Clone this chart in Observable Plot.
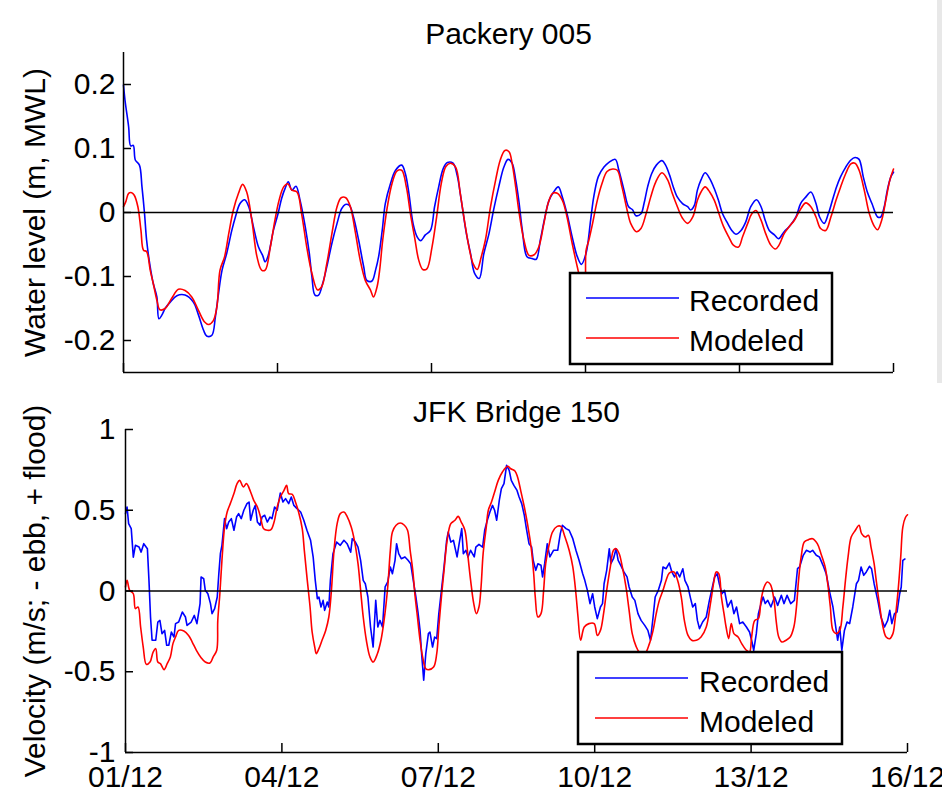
<!DOCTYPE html>
<html><head><meta charset="utf-8">
<script src="https://cdn.jsdelivr.net/npm/d3@7"></script>
<script src="https://cdn.jsdelivr.net/npm/@observablehq/plot@0.6"></script>
<style>
html,body{margin:0;padding:0;background:#fff;}
#wrap{position:relative;width:942px;height:800px;overflow:hidden;font-family:"Liberation Sans",Arial,sans-serif;}
#wrap svg{display:block;}
.ov{position:absolute;}
</style></head><body><div id="wrap"></div>
<script>
// ---------- axis ticks ----------
const tickDays = [0, 3, 6, 9, 12, 15];
const tickLabels = ["01/12", "04/12", "07/12", "10/12", "13/12", "16/12"];
const wlTicks = [-0.2, -0.1, 0, 0.1, 0.2];
const velTicks = [-1, -0.5, 0, 0.5, 1];
const seriesNames = ["Recorded", "Modeled"];

// ---------- Packery 005 water level (day since 01/12, m) ----------
const wlRecorded = [[0,0.199],[0.03,0.175],[0.10,0.134],[0.14,0.104],[0.19,0.105],[0.23,0.082],[0.31,0.074],[0.36,0.04],[0.41,-0.002],[0.45,-0.043],[0.52,-0.085],[0.58,-0.111],[0.65,-0.132],[0.69,-0.166],[0.75,-0.160],[0.81,-0.150],[0.91,-0.140],[1.04,-0.130],[1.20,-0.129],[1.36,-0.140],[1.46,-0.160],[1.56,-0.184],[1.62,-0.193],[1.72,-0.192],[1.79,-0.163],[1.85,-0.127],[1.92,-0.090],[2.01,-0.064],[2.11,-0.028],[2.18,-0.007],[2.27,0.014],[2.36,0.020],[2.44,0.009],[2.53,-0.022],[2.63,-0.054],[2.71,-0.067],[2.76,-0.077],[2.82,-0.067],[2.92,-0.028],[3.01,-0.002],[3.08,0.022],[3.15,0.038],[3.21,0.048],[3.28,0.035],[3.36,0.041],[3.44,0.019],[3.54,-0.022],[3.62,-0.064],[3.67,-0.10],[3.73,-0.129],[3.80,-0.129],[3.88,-0.111],[3.96,-0.085],[4.06,-0.048],[4.16,-0.017],[4.25,0.006],[4.32,0.0125],[4.40,0.011],[4.48,-0.007],[4.58,-0.043],[4.68,-0.085],[4.74,-0.106],[4.84,-0.107],[4.91,-0.090],[4.97,-0.069],[5.04,-0.028],[5.10,0.014],[5.20,0.045],[5.30,0.066],[5.42,0.074],[5.49,0.061],[5.56,0.030],[5.64,-0.017],[5.72,-0.038],[5.79,-0.044],[5.88,-0.035],[5.98,-0.028],[6.06,0.009],[6.14,0.040],[6.23,0.069],[6.31,0.078],[6.42,0.077],[6.50,0.058],[6.58,0.019],[6.68,-0.033],[6.76,-0.064],[6.84,-0.095],[6.93,-0.103],[7.02,-0.064],[7.12,-0.033],[7.21,0.004],[7.31,0.040],[7.41,0.071],[7.49,0.083],[7.57,0.077],[7.64,0.051],[7.70,0.019],[7.77,-0.028],[7.86,-0.069],[7.96,-0.072],[8.04,-0.073],[8.12,-0.043],[8.21,-0.007],[8.29,0.019],[8.38,0.032],[8.47,0.040],[8.55,0.024],[8.64,-0.002],[8.74,-0.038],[8.84,-0.069],[8.92,-0.081],[9.01,-0.064],[9.10,-0.012],[9.16,0.024],[9.25,0.056],[9.36,0.071],[9.45,0.078],[9.58,0.083],[9.65,0.066],[9.75,0.035],[9.84,0.009],[9.92,0.004],[9.98,-0.005],[10.08,-0.002],[10.14,0.014],[10.21,0.040],[10.29,0.061],[10.38,0.074],[10.49,0.081],[10.56,0.074],[10.64,0.058],[10.71,0.040],[10.79,0.024],[10.89,0.014],[10.99,0.009],[11.05,0.004],[11.12,0.011],[11.18,0.035],[11.25,0.051],[11.33,0.062],[11.42,0.053],[11.51,0.037],[11.59,0.019],[11.67,-0.002],[11.77,-0.017],[11.85,-0.028],[11.93,-0.034],[12.03,-0.028],[12.12,-0.015],[12.22,0.009],[12.33,0.020],[12.42,0.009],[12.50,-0.012],[12.58,-0.028],[12.68,-0.035],[12.76,-0.041],[12.87,-0.030],[12.97,-0.022],[13.10,-0.007],[13.19,0.014],[13.29,0.024],[13.39,0.032],[13.49,0.014],[13.56,-0.007],[13.65,-0.017],[13.73,-0.002],[13.81,0.019],[13.89,0.040],[13.97,0.056],[14.07,0.071],[14.17,0.082],[14.25,0.086],[14.33,0.083],[14.41,0.056],[14.49,0.032],[14.58,0.014],[14.69,-0.007],[14.75,-0.007],[14.82,0.009],[14.88,0.035],[14.95,0.056],[15.0,0.063]];

const wlModeled = [[0,0.009],[0.045,0.017],[0.10,0.030],[0.16,0.031],[0.21,0.027],[0.28,0.009],[0.34,-0.028],[0.39,-0.059],[0.45,-0.061],[0.52,-0.090],[0.58,-0.111],[0.65,-0.137],[0.71,-0.152],[0.81,-0.150],[0.94,-0.134],[1.07,-0.120],[1.20,-0.122],[1.33,-0.132],[1.46,-0.153],[1.58,-0.171],[1.66,-0.175],[1.75,-0.169],[1.82,-0.147],[1.88,-0.090],[1.97,-0.069],[2.05,-0.033],[2.14,0.004],[2.24,0.030],[2.32,0.044],[2.40,0.032],[2.50,-0.012],[2.60,-0.069],[2.69,-0.090],[2.76,-0.090],[2.86,-0.054],[2.95,-0.012],[3.03,0.019],[3.12,0.040],[3.20,0.045],[3.28,0.035],[3.38,0.032],[3.47,-0.002],[3.57,-0.054],[3.67,-0.095],[3.78,-0.121],[3.86,-0.116],[3.96,-0.080],[4.06,-0.033],[4.16,0.009],[4.24,0.023],[4.33,0.023],[4.42,0.009],[4.51,-0.028],[4.61,-0.074],[4.71,-0.106],[4.81,-0.121],[4.87,-0.132],[4.94,-0.116],[4.99,-0.090],[5.05,-0.043],[5.14,0.009],[5.23,0.045],[5.33,0.065],[5.42,0.066],[5.51,0.040],[5.59,-0.002],[5.68,-0.043],[5.75,-0.074],[5.83,-0.089],[5.91,-0.088],[6.01,-0.054],[6.10,-0.007],[6.19,0.045],[6.28,0.072],[6.37,0.077],[6.47,0.071],[6.56,0.030],[6.65,-0.017],[6.73,-0.054],[6.81,-0.080],[6.89,-0.089],[6.97,-0.069],[7.05,-0.043],[7.15,0.009],[7.25,0.051],[7.34,0.082],[7.43,0.097],[7.51,0.095],[7.57,0.077],[7.64,0.040],[7.71,-0.002],[7.80,-0.043],[7.90,-0.067],[8.00,-0.066],[8.09,-0.054],[8.19,-0.017],[8.27,0.014],[8.36,0.030],[8.45,0.030],[8.55,0.019],[8.64,-0.007],[8.74,-0.048],[8.84,-0.085],[8.92,-0.112],[8.99,-0.13],[9.01,-0.06],[9.06,-0.045],[9.13,-0.020],[9.23,0.019],[9.32,0.045],[9.42,0.064],[9.53,0.068],[9.62,0.066],[9.71,0.040],[9.81,0.004],[9.88,-0.017],[9.99,-0.030],[10.08,-0.025],[10.18,-0.002],[10.27,0.024],[10.37,0.048],[10.49,0.062],[10.60,0.051],[10.69,0.030],[10.79,0.009],[10.89,-0.009],[10.99,-0.017],[11.09,-0.007],[11.18,0.019],[11.25,0.032],[11.33,0.040],[11.42,0.032],[11.51,0.019],[11.60,-0.002],[11.69,-0.022],[11.79,-0.038],[11.88,-0.051],[11.98,-0.054],[12.06,-0.038],[12.16,-0.017],[12.24,-0.002],[12.32,0.003],[12.42,-0.012],[12.51,-0.033],[12.61,-0.051],[12.70,-0.057],[12.77,-0.051],[12.87,-0.033],[12.97,-0.022],[13.07,-0.012],[13.16,0.001],[13.29,0.015],[13.39,0.009],[13.49,-0.007],[13.58,-0.025],[13.68,-0.028],[13.78,-0.007],[13.88,0.019],[13.97,0.040],[14.07,0.061],[14.17,0.076],[14.25,0.077],[14.33,0.066],[14.43,0.035],[14.53,-0.002],[14.63,-0.022],[14.69,-0.027],[14.77,-0.012],[14.85,0.019],[14.93,0.051],[15.0,0.068]];

// ---------- JFK Bridge 150 velocity (day since 01/12, m/s) ----------
const velRecorded = [[0,0.479],[0.03,0.52],[0.06,0.417],[0.11,0.386],[0.15,0.21],[0.19,0.283],[0.26,0.272],[0.30,0.241],[0.35,0.293],[0.42,0.262],[0.45,0.066],[0.48,-0.161],[0.51,-0.305],[0.58,-0.305],[0.62,-0.192],[0.66,-0.182],[0.70,-0.264],[0.75,-0.244],[0.79,-0.336],[0.83,-0.336],[0.88,-0.254],[0.93,-0.285],[0.96,-0.202],[1.02,-0.192],[1.09,-0.130],[1.15,-0.161],[1.18,-0.213],[1.26,-0.192],[1.32,-0.151],[1.37,-0.202],[1.43,-0.078],[1.45,0.087],[1.50,0.076],[1.53,0.004],[1.58,-0.017],[1.63,-0.078],[1.66,-0.140],[1.71,-0.109],[1.76,-0.037],[1.79,0.107],[1.82,0.231],[1.85,0.283],[1.90,0.448],[1.94,0.386],[1.98,0.427],[2.03,0.448],[2.08,0.376],[2.13,0.458],[2.17,0.479],[2.22,0.448],[2.27,0.500],[2.33,0.541],[2.37,0.551],[2.40,0.438],[2.45,0.500],[2.49,0.530],[2.53,0.427],[2.58,0.407],[2.62,0.458],[2.67,0.469],[2.72,0.427],[2.77,0.458],[2.81,0.448],[2.86,0.520],[2.91,0.500],[2.97,0.607],[3.02,0.551],[3.07,0.572],[3.13,0.541],[3.18,0.582],[3.23,0.530],[3.29,0.510],[3.36,0.489],[3.42,0.438],[3.48,0.376],[3.55,0.314],[3.60,0.21],[3.64,0.066],[3.68,-0.047],[3.71,-0.037],[3.75,-0.099],[3.79,-0.058],[3.82,-0.120],[3.87,-0.068],[3.90,-0.099],[3.93,0.066],[3.98,0.231],[4.05,0.303],[4.12,0.283],[4.19,0.314],[4.25,0.293],[4.32,0.241],[4.35,0.324],[4.41,0.303],[4.46,0.272],[4.51,0.190],[4.56,0.066],[4.60,0.045],[4.65,-0.037],[4.70,-0.223],[4.75,-0.347],[4.80,-0.058],[4.84,-0.223],[4.88,-0.182],[4.93,-0.223],[4.98,0.025],[5.03,0.056],[5.08,0.149],[5.12,0.107],[5.17,0.190],[5.20,0.293],[5.24,0.231],[5.29,0.200],[5.36,0.211],[5.42,0.190],[5.47,0.169],[5.52,0.066],[5.57,-0.037],[5.61,-0.130],[5.65,-0.244],[5.68,-0.388],[5.72,-0.553],[5.76,-0.388],[5.81,-0.264],[5.84,-0.254],[5.89,-0.347],[5.93,-0.285],[5.97,-0.295],[6.01,-0.140],[6.06,0.004],[6.11,0.149],[6.16,0.314],[6.19,0.365],[6.24,0.303],[6.29,0.314],[6.36,0.211],[6.40,0.293],[6.45,0.386],[6.48,0.231],[6.53,0.252],[6.57,0.211],[6.62,0.252],[6.69,0.211],[6.72,0.272],[6.78,0.289],[6.85,0.272],[6.89,0.376],[6.94,0.438],[6.99,0.489],[7.04,0.530],[7.08,0.500],[7.12,0.438],[7.17,0.561],[7.21,0.634],[7.26,0.665],[7.31,0.778],[7.36,0.747],[7.40,0.685],[7.45,0.654],[7.51,0.623],[7.55,0.582],[7.60,0.541],[7.65,0.469],[7.69,0.386],[7.74,0.293],[7.79,0.272],[7.82,0.190],[7.87,0.128],[7.91,0.169],[7.97,0.159],[8.00,0.087],[8.04,0.169],[8.09,0.293],[8.14,0.211],[8.21,0.252],[8.29,0.252],[8.34,0.355],[8.38,0.407],[8.45,0.386],[8.51,0.376],[8.58,0.324],[8.64,0.252],[8.70,0.190],[8.77,0.107],[8.81,0.066],[8.86,0.004],[8.91,-0.078],[8.96,-0.017],[9.00,-0.099],[9.05,-0.171],[9.11,-0.099],[9.15,-0.078],[9.18,0.045],[9.23,0.128],[9.28,0.262],[9.31,0.169],[9.36,0.200],[9.41,0.262],[9.45,0.190],[9.50,0.159],[9.56,0.118],[9.62,0.087],[9.66,0.025],[9.72,-0.037],[9.77,-0.058],[9.83,-0.140],[9.89,-0.182],[9.96,-0.213],[10.02,-0.244],[10.07,-0.305],[10.12,-0.161],[10.16,-0.037],[10.22,0.004],[10.28,0.066],[10.31,0.149],[10.37,0.138],[10.43,0.173],[10.48,0.118],[10.53,0.087],[10.58,0.118],[10.63,0.087],[10.69,0.138],[10.73,0.066],[10.79,0.025],[10.84,-0.047],[10.88,-0.099],[10.93,-0.078],[10.97,-0.182],[11.01,-0.233],[11.07,-0.192],[11.14,-0.161],[11.20,-0.058],[11.25,0.014],[11.30,0.087],[11.35,0.107],[11.39,0.045],[11.44,-0.017],[11.49,0.004],[11.55,-0.099],[11.62,-0.058],[11.67,-0.140],[11.72,-0.099],[11.78,-0.202],[11.84,-0.192],[11.91,-0.223],[11.97,-0.254],[12.01,-0.305],[12.05,-0.367],[12.10,-0.264],[12.14,-0.140],[12.19,-0.078],[12.23,-0.037],[12.27,-0.078],[12.32,-0.058],[12.38,-0.099],[12.45,-0.037],[12.51,-0.089],[12.58,-0.027],[12.63,-0.078],[12.69,-0.027],[12.76,-0.078],[12.83,-0.058],[12.89,0.138],[12.93,0.149],[13.00,0.221],[13.06,0.252],[13.13,0.241],[13.18,0.252],[13.25,0.221],[13.31,0.211],[13.38,0.159],[13.44,0.107],[13.50,0.004],[13.57,-0.099],[13.61,-0.192],[13.66,-0.305],[13.70,-0.223],[13.74,-0.367],[13.79,-0.244],[13.84,-0.192],[13.89,-0.202],[13.95,-0.099],[14.02,0.045],[14.06,0.066],[14.11,0.149],[14.16,0.097],[14.21,0.118],[14.27,0.153],[14.31,0.138],[14.36,0.045],[14.43,-0.058],[14.49,-0.161],[14.56,-0.223],[14.62,-0.182],[14.66,-0.120],[14.70,-0.202],[14.75,-0.140],[14.80,-0.130],[14.85,-0.017],[14.88,0.025],[14.91,0.190],[14.95,0.198]];

const velModeled = [[0,0.025],[0.03,0.066],[0.08,0.004],[0.15,-0.017],[0.19,-0.109],[0.24,-0.099],[0.29,-0.223],[0.34,-0.347],[0.40,-0.454],[0.47,-0.440],[0.53,-0.378],[0.58,-0.357],[0.62,-0.440],[0.67,-0.450],[0.74,-0.487],[0.80,-0.450],[0.86,-0.409],[0.91,-0.326],[0.96,-0.285],[1.02,-0.244],[1.12,-0.248],[1.21,-0.275],[1.28,-0.316],[1.36,-0.367],[1.45,-0.413],[1.53,-0.440],[1.62,-0.446],[1.68,-0.409],[1.75,-0.367],[1.77,-0.182],[1.81,-0.017],[1.85,0.190],[1.90,0.396],[1.95,0.489],[2.01,0.541],[2.08,0.603],[2.14,0.665],[2.19,0.685],[2.26,0.644],[2.32,0.665],[2.40,0.613],[2.46,0.561],[2.53,0.520],[2.59,0.458],[2.65,0.386],[2.72,0.376],[2.79,0.380],[2.85,0.427],[2.91,0.520],[2.97,0.582],[3.04,0.623],[3.09,0.654],[3.13,0.603],[3.20,0.599],[3.26,0.551],[3.32,0.489],[3.39,0.386],[3.43,0.252],[3.48,0.087],[3.54,-0.099],[3.58,-0.254],[3.63,-0.347],[3.66,-0.388],[3.71,-0.357],[3.77,-0.305],[3.84,-0.244],[3.90,-0.161],[3.95,0.004],[4.00,0.252],[4.06,0.417],[4.12,0.479],[4.19,0.489],[4.25,0.462],[4.33,0.396],[4.39,0.314],[4.46,0.169],[4.51,0.004],[4.56,-0.161],[4.62,-0.305],[4.69,-0.409],[4.75,-0.440],[4.83,-0.39],[4.90,-0.305],[4.96,-0.182],[5.03,0.025],[5.08,0.252],[5.12,0.365],[5.19,0.407],[5.27,0.421],[5.35,0.407],[5.41,0.376],[5.46,0.252],[5.51,0.128],[5.55,-0.017],[5.60,-0.161],[5.65,-0.305],[5.70,-0.409],[5.76,-0.481],[5.82,-0.487],[5.91,-0.471],[5.97,-0.388],[6.01,-0.223],[6.06,-0.037],[6.11,0.128],[6.17,0.314],[6.24,0.417],[6.32,0.438],[6.38,0.462],[6.44,0.427],[6.51,0.376],[6.57,0.211],[6.62,0.066],[6.68,-0.078],[6.73,-0.140],[6.78,-0.099],[6.82,0.025],[6.86,0.231],[6.92,0.396],[6.96,0.500],[7.02,0.551],[7.08,0.613],[7.15,0.685],[7.23,0.737],[7.33,0.772],[7.39,0.757],[7.47,0.743],[7.52,0.706],[7.58,0.623],[7.65,0.520],[7.71,0.417],[7.78,0.272],[7.83,0.107],[7.86,-0.037],[7.91,-0.161],[7.97,-0.140],[8.02,0.004],[8.06,0.169],[8.13,0.293],[8.19,0.365],[8.28,0.400],[8.35,0.400],[8.43,0.334],[8.51,0.252],[8.58,0.149],[8.64,-0.017],[8.68,-0.161],[8.73,-0.305],[8.80,-0.223],[8.89,-0.202],[8.99,-0.202],[9.05,-0.275],[9.11,-0.244],[9.17,-0.140],[9.23,0.004],[9.30,0.149],[9.36,0.252],[9.41,0.262],[9.47,0.231],[9.53,0.149],[9.60,0.025],[9.66,-0.120],[9.72,-0.264],[9.79,-0.34],[9.86,-0.38],[9.96,-0.388],[10.05,-0.326],[10.12,-0.244],[10.18,-0.140],[10.24,-0.058],[10.31,0.004],[10.37,0.066],[10.43,0.111],[10.52,0.118],[10.59,0.066],[10.66,-0.037],[10.72,-0.182],[10.79,-0.275],[10.86,-0.305],[10.95,-0.305],[11.04,-0.285],[11.14,-0.223],[11.22,-0.078],[11.29,0.066],[11.33,0.118],[11.38,0.107],[11.43,-0.037],[11.48,-0.140],[11.52,-0.223],[11.57,-0.295],[11.62,-0.202],[11.67,-0.264],[11.75,-0.285],[11.82,-0.326],[11.91,-0.367],[11.97,-0.378],[12.01,-0.285],[12.07,-0.182],[12.14,-0.171],[12.19,-0.058],[12.25,0.025],[12.31,0.056],[12.37,0.041],[12.44,-0.058],[12.48,-0.182],[12.53,-0.285],[12.59,-0.316],[12.67,-0.305],[12.75,-0.285],[12.82,-0.223],[12.87,-0.099],[12.91,0.066],[12.96,0.211],[13.02,0.303],[13.10,0.318],[13.18,0.324],[13.27,0.293],[13.34,0.231],[13.42,0.149],[13.47,0.045],[13.52,-0.099],[13.57,-0.244],[13.63,-0.264],[13.70,-0.244],[13.76,-0.099],[13.81,0.066],[13.86,0.211],[13.92,0.334],[14.00,0.376],[14.07,0.407],[14.12,0.355],[14.19,0.334],[14.25,0.345],[14.30,0.272],[14.36,0.169],[14.40,0.066],[14.46,-0.078],[14.53,-0.223],[14.59,-0.285],[14.66,-0.295],[14.72,-0.264],[14.76,-0.182],[14.82,0.004],[14.87,0.211],[14.91,0.396],[14.96,0.455],[15.0,0.472]];

const FONT = '"Liberation Sans", Arial, sans-serif';

function panel(o) {
  const fw = o.width - o.mL - o.mR, fh = o.height - o.mT - o.mB;
  const ax = {stroke: "#000", strokeWidth: 1.5};
  return Plot.plot({
    width: o.width, height: o.height,
    marginLeft: o.mL, marginRight: o.mR, marginTop: o.mT, marginBottom: o.mB,
    style: {fontFamily: FONT, fontSize: "30px", color: "#000", background: "transparent", overflow: "visible"},
    x: {domain: [0, 15], axis: null},
    y: {domain: o.yDomain, axis: null},
    marks: [
      Plot.line(o.rec, {x: d => d[0], y: d => d[1], stroke: "#0000ff", strokeWidth: 1.6, curve: o.recCurve}),
      Plot.line(o.mod, {x: d => d[0], y: d => d[1], stroke: "#ff0000", strokeWidth: 1.6, curve: "catmull-rom"}),
      Plot.ruleY([0], {stroke: "#000", strokeWidth: 1.6}),
      Plot.ruleX([0], ax),
      Plot.ruleY([o.yDomain[0]], ax),
      Plot.tickY(o.yTicks, {y: d => d, insetRight: fw - 8, ...ax}),
      Plot.tickX(tickDays, {x: d => d, insetTop: fh - 9, ...ax}),
      Plot.axisY(o.yTicks, {tickSize: 0, tickPadding: o.yPad, tickFormat: d => String(d), fontSize: 30, label: null}),
      o.xLabels ? Plot.axisX(tickDays, {tickSize: 0, tickPadding: 13, tickFormat: d => tickLabels[tickDays.indexOf(d)], fontSize: 30, label: null}) : null,
      Plot.text([o.title], {text: d => d, frameAnchor: "top", dy: o.titleDy, fontSize: 30, fill: "#000"}),
      Plot.text([o.ylabel], {text: d => d, frameAnchor: "left", textAnchor: "middle", lineAnchor: "middle", dx: -(o.mL - 35), rotate: -90, fontSize: 30, fill: "#000"})
    ]
  });
}

const wrap = document.getElementById("wrap");

const top1 = panel({rec: wlRecorded, mod: wlModeled, recCurve: "catmull-rom", title: "Packery 005", ylabel: "Water level (m, MWL)",
  yDomain: [-0.25, 0.25], yTicks: wlTicks, width: 942, height: 385, mL: 123, mR: 49, mT: 52, mB: 13, yPad: 8, xLabels: false, titleDy: -30});
const bot1 = panel({rec: velRecorded, mod: velModeled, recCurve: "linear", title: "JFK Bridge 150", ylabel: "Velocity (m/s; - ebb, + flood)",
  yDomain: [-1, 1], yTicks: velTicks, width: 942, height: 415, mL: 125, mR: 35, mT: 44, mB: 48, yPad: 10, xLabels: true, titleDy: -29});
wrap.appendChild(top1);
wrap.appendChild(bot1);

// gray strip at right edge (scan artefact)
const strip = document.createElement("div");
strip.className = "ov";
strip.style.cssText = "left:937px;top:0;width:5px;height:383px;background:#e8e8e8;";
wrap.appendChild(strip);

// legends
function legend(left, top, w, h, lineY, textY, lineX0, lineX1, textX) {
  const ns = "http://www.w3.org/2000/svg";
  const svg = d3.create("svg").attr("xmlns", ns).attr("width", w + 4).attr("height", h + 4)
    .attr("class", "ov").style("left", (left - 2) + "px").style("top", (top - 2) + "px");
  svg.append("rect").attr("x", 2).attr("y", 2).attr("width", w).attr("height", h)
    .attr("fill", "#fff").attr("stroke", "#000").attr("stroke-width", 2.5);
  const colors = ["#0000ff", "#ff0000"];
  seriesNames.forEach((name, i) => {
    svg.append("line").attr("x1", lineX0 + 2).attr("x2", lineX1 + 2).attr("y1", lineY[i] + 2).attr("y2", lineY[i] + 2)
      .attr("stroke", colors[i]).attr("stroke-width", 1.6);
    svg.append("text").attr("x", textX + 2).attr("y", textY[i] + 2).attr("font-family", FONT).attr("font-size", 30)
      .attr("fill", "#000").text(name);
  });
  wrap.appendChild(svg.node());
}
legend(570, 273, 262, 91, [25, 65], [38, 78], 16, 109, 119);
legend(578, 652, 264, 92, [26, 66], [40, 80], 17, 110, 121);
</script></body></html>
